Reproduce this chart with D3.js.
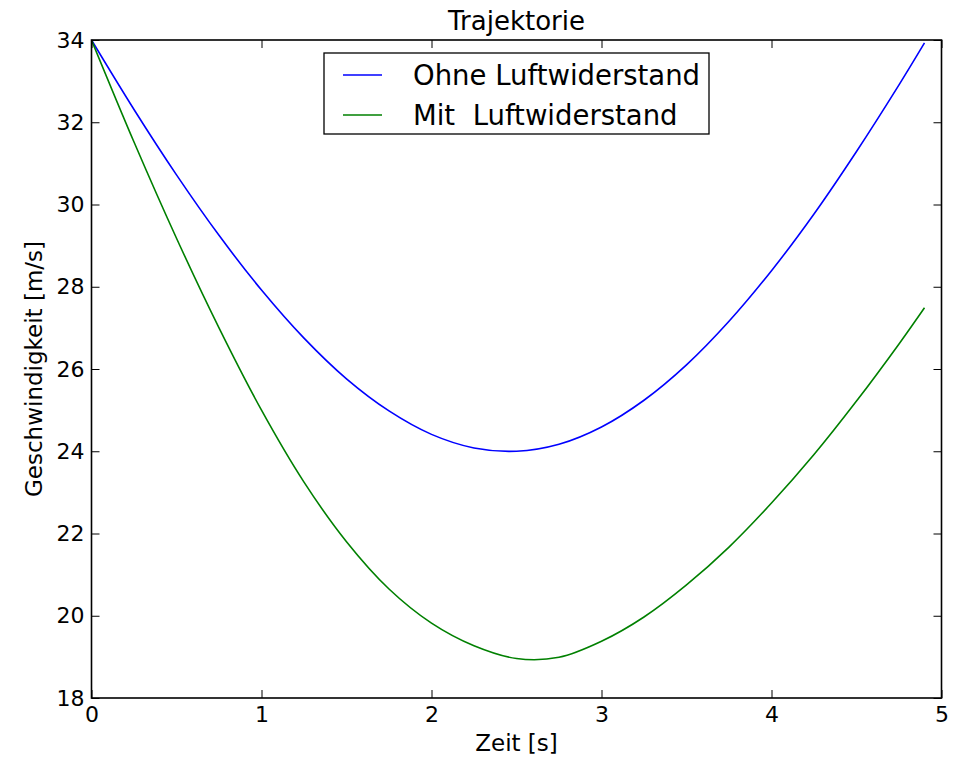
<!DOCTYPE html>
<html><head><meta charset="utf-8">
<script src="https://cdn.jsdelivr.net/npm/d3@7"></script>
<style>body{margin:0;background:#fff;} text{font-family:"DejaVu Sans",sans-serif;fill:#000;}</style>
</head><body>
<svg id="chart" width="965" height="758"></svg>
<script>
const title = "Trajektorie";
const xLabel = "Zeit [s]";
const yLabel = "Geschwindigkeit [m/s]";
const seriesNames = ["Ohne Luftwiderstand", "Mit  Luftwiderstand"];
const xTicks = [0, 1, 2, 3, 4, 5];
const yTicks = [18, 20, 22, 24, 26, 28, 30, 32, 34];
const timeOhne = [0, 0.25, 0.5, 0.75, 1.0, 1.25, 1.5, 1.75, 2.0, 2.25, 2.5, 2.75, 3.0, 3.25, 3.5, 3.75, 4.0, 4.25, 4.5, 4.75, 4.9];
const vOhne = [34.0, 32.31, 30.72, 29.25, 27.92, 26.75, 25.76, 24.98, 24.41, 24.08, 24.0, 24.17, 24.59, 25.24, 26.10, 27.16, 28.39, 29.77, 31.29, 32.91, 33.93];
const timeMit = [0, 0.25, 0.5, 0.75, 1.0, 1.25, 1.5, 1.75, 2.0, 2.25, 2.5, 2.75, 3.0, 3.25, 3.5, 3.75, 4.0, 4.25, 4.5, 4.75, 4.9];
const vMit = [34.0, 31.52, 29.18, 27.0, 25.0, 23.25, 21.8, 20.65, 19.82, 19.27, 18.96, 18.99, 19.38, 19.97, 20.75, 21.67, 22.74, 23.92, 25.22, 26.61, 27.49];
const colors = ["#0000ff", "#008000"];

const svg = d3.select("#chart");
const m = {left: 91.5, top: 40, right: 965 - 941.5, bottom: 758 - 698};
const W = 965 - m.left - m.right, H = 758 - m.top - m.bottom;
const x = d3.scaleLinear().domain([0, 5]).range([m.left, m.left + W]);
const y = d3.scaleLinear().domain([18, 34]).range([m.top + H, m.top]);
const g = svg.append("g");

const line = d3.line().x(d => x(d[0])).y(d => y(d[1])).curve(d3.curveCatmullRom.alpha(0.5));
const sets = [d3.zip(timeOhne, vOhne), d3.zip(timeMit, vMit)];
g.append("defs").append("clipPath").attr("id","clip").append("rect")
  .attr("x", m.left).attr("y", m.top - 2).attr("width", W).attr("height", H + 4);
sets.forEach((s, i) => {
  g.append("path").datum(s).attr("d", line).attr("fill", "none")
    .attr("stroke", colors[i]).attr("stroke-width", 1.6).attr("clip-path","url(#clip)");
});

const fs = 22, tl = 8;
const axB = d3.axisBottom(x).tickValues(xTicks).tickSize(tl).tickFormat(d3.format("d"));
const axT = d3.axisTop(x).tickValues(xTicks).tickSize(tl).tickFormat("");
const axL = d3.axisLeft(y).tickValues(yTicks).tickSize(tl).tickFormat(d3.format("d"));
const axR = d3.axisRight(y).tickValues(yTicks).tickSize(tl).tickFormat("");
function style(sel){ sel.select(".domain").remove(); sel.selectAll("line").attr("stroke","#000").attr("stroke-width",1); sel.selectAll("text").attr("font-size", fs).attr("font-family","DejaVu Sans"); }
const gb = g.append("g").attr("transform", `translate(0,${m.top+H})`).call(axB).call(style);
gb.selectAll("line").attr("y2", -tl);
gb.selectAll("text").attr("y", 8).attr("dy","0.71em");
const gt = g.append("g").attr("transform", `translate(0,${m.top})`).call(axT).call(style);
gt.selectAll("line").attr("y2", tl);
const gl = g.append("g").attr("transform", `translate(${m.left},0)`).call(axL).call(style);
gl.selectAll("line").attr("x2", tl);
gl.selectAll("text").attr("x", -7);
const gr = g.append("g").attr("transform", `translate(${m.left+W},0)`).call(axR).call(style);
gr.selectAll("line").attr("x2", -tl);

g.append("rect").attr("x", m.left).attr("y", m.top).attr("width", W).attr("height", H)
  .attr("fill","none").attr("stroke","#000").attr("stroke-width",1.6);

g.append("text").attr("x", m.left + W/2).attr("y", 30).attr("text-anchor","middle").attr("font-size", 26).text(title);
g.append("text").attr("x", m.left + W/2).attr("y", 751).attr("text-anchor","middle").attr("font-size", 23).text(xLabel);
g.append("text").attr("transform", `translate(42,${m.top+H/2}) rotate(-90)`).attr("text-anchor","middle").attr("font-size", 23).text(yLabel);

const lg = g.append("g");
lg.append("rect").attr("x", 324).attr("y", 53).attr("width", 385).attr("height", 81)
  .attr("fill","#fff").attr("stroke","#000").attr("stroke-width",1.3);
seriesNames.forEach((n, i) => {
  const yy = 75 + i*40;
  lg.append("line").attr("x1", 343).attr("x2", 382).attr("y1", yy).attr("y2", yy).attr("stroke", colors[i]).attr("stroke-width", 1.6);
  lg.append("text").attr("x", 413).attr("y", yy).attr("dy","0.36em").attr("font-size", 27.5).attr("xml:space","preserve").style("white-space","pre").text(n);
});
</script>
</body></html>
